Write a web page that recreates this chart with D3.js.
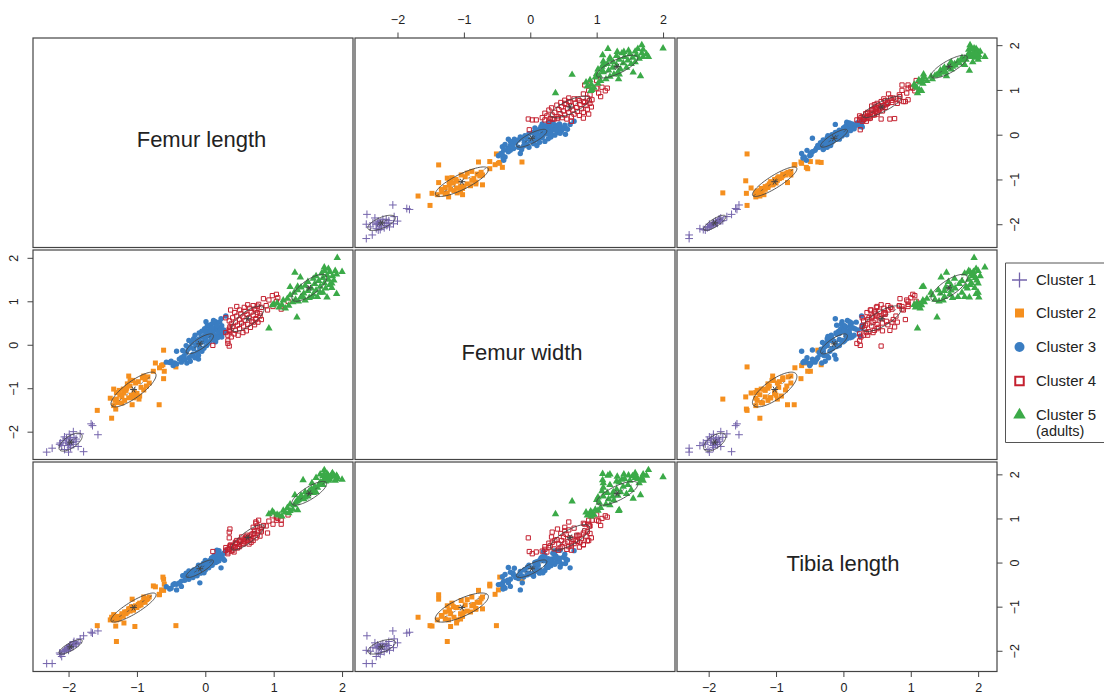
<!DOCTYPE html>
<html lang="en">
<head>
<meta charset="UTF-8">
<title>Femur and tibia clusters</title>
<script src="https://cdn.jsdelivr.net/npm/d3@7"></script>
<style>
  html, body { margin: 0; background: #fff; }
  svg { display: block; }
  text { font-family: "Liberation Sans", Arial, sans-serif; fill: #222; }
  .tick line { stroke: #444; stroke-width: 1; }
  .tick text { font-size: 12.5px; fill: #222; }
</style>
</head>
<body>
<svg id="chart" width="1104" height="696"></svg>
<script>
// every point is [femur length, femur width, tibia length]
var cluster1 = [
  [-2.32,-2.47,-2.29],[-2.24,-2.38,-2.29],[-1.78,-2.46,-1.66],[-2.00,-2.47,-1.99],[-1.57,-2.07,-1.55],
  [-1.65,-1.86,-1.60],[-1.67,-1.82,-1.58],[-1.86,-2.34,-1.82],[-1.97,-2.37,-1.93],[-1.93,-2.29,-1.90],
  [-1.89,-2.22,-1.84],[-1.97,-2.14,-1.88],[-1.99,-2.06,-1.93],[-1.93,-2.00,-1.82],[-2.04,-2.24,-1.97],
  [-2.13,-2.29,-2.05],[-2.01,-2.32,-1.94],[-1.98,-2.19,-1.90],[-2.06,-2.41,-2.01],[-2.06,-2.12,-1.99],
  [-2.00,-2.27,-1.92],[-1.89,-2.17,-1.85],[-1.95,-2.25,-1.87],[-2.08,-2.20,-2.02],[-2.10,-2.32,-2.13],
  [-1.92,-2.13,-1.79],[-2.03,-2.16,-1.96],[-1.83,-2.05,-1.73],[-2.12,-2.26,-2.08],[-1.98,-2.30,-1.87]
];
var cluster2 = [
  [-0.61,-0.125,-0.38],[-0.62,-0.46,-0.33],[-0.60,-0.61,-0.49],[-0.61,-0.78,-0.63],[-0.43,-0.51,-1.43],
  [-0.67,-0.53,-0.72],[-0.73,-0.42,-0.55],[-0.76,-0.61,-0.53],[-0.64,-0.48,-0.62],[-0.90,-0.72,-0.78],
  [-1.12,-0.72,-1.05],[-1.58,-1.51,-1.43],[-1.37,-1.69,-1.24],[-1.30,-1.25,-1.79],[-1.03,-1.20,-1.45],
  [-1.19,-1.11,-1.37],[-1.31,-1.48,-1.44],[-0.675,-1.38,-0.73],[-1.07,-1.38,-0.83],[-1.34,-1.02,-1.18],
  [-1.39,-1.23,-1.30],[-1.28,-1.33,-1.22],[-1.25,-1.15,-1.24],[-1.22,-1.34,-1.20],[-1.20,-1.02,-1.22],
  [-1.18,-1.28,-1.12],[-1.16,-1.05,-1.16],[-1.14,-0.90,-1.12],[-1.12,-1.22,-1.08],[-1.10,-0.95,-1.10],
  [-1.08,-1.16,-1.00],[-1.06,-0.82,-1.06],[-1.04,-1.10,-1.02],[-1.02,-0.88,-0.98],[-1.00,-1.12,-1.02],
  [-0.98,-0.85,-0.95],[-0.96,-1.18,-0.92],[-0.94,-0.98,-0.96],[-0.92,-0.76,-0.90],[-0.90,-1.04,-0.86],
  [-0.88,-0.80,-0.90],[-0.86,-0.95,-0.84],[-0.84,-0.74,-0.82],[-1.30,-1.10,-1.30],[-1.32,-1.28,-1.28],
  [-1.34,-1.40,-1.30],[-1.26,-1.05,-1.28],[-1.15,-1.00,-1.12],[-1.05,-1.22,-1.08],[-0.97,-1.25,-0.98],
  [-1.22,-1.20,-1.16],[-0.82,-0.88,-0.78],[-1.10,-0.82,-1.04]
];
var cluster3 = [
  [0.23,0.60,-0.12],[-0.42,-0.15,-0.62],[-0.10,-0.33,-0.11],[-0.08,-0.12,-0.46],[-0.50,-0.38,-0.58],
  [-0.57,-0.40,-0.55],[-0.35,-0.30,-0.54],[-0.52,-0.41,-0.60],[0.17,0.45,0.28],[0.20,0.38,0.27],
  [0.28,0.30,0.05],[0.18,0.20,0.25],[0.15,0.53,0.09],[0.01,0.53,-0.02],[0.05,0.42,0.02],[0.30,0.66,0.27],
  [-0.47,-0.48,-0.50],[-0.45,-0.42,-0.48],
  [-0.30,-0.34,-0.40],[-0.27,-0.42,-0.32],[-0.35,-0.40,-0.42],[-0.42,-0.44,-0.49],[-0.24,-0.30,-0.38],
  [-0.31,-0.25,-0.29],[-0.38,-0.33,-0.46],[-0.22,-0.38,-0.27],[-0.28,-0.18,-0.36],[-0.20,-0.26,-0.24],
  [-0.25,-0.10,-0.33],[-0.18,-0.22,-0.34],[-0.33,-0.13,-0.30],[-0.15,-0.30,-0.22],[-0.22,-0.05,-0.28],
  [-0.12,-0.18,-0.30],[-0.28,-0.02,-0.24],[-0.17,-0.09,-0.17],[-0.10,-0.24,-0.13],[-0.20,0.05,-0.31],
  [-0.14,0.00,-0.26],[-0.05,-0.15,-0.20],[-0.24,0.10,-0.19],[-0.09,-0.04,-0.10],[-0.17,0.14,-0.24],
  [-0.02,-0.08,-0.16],[-0.12,0.08,-0.14],[-0.06,0.18,-0.22],[0.02,-0.02,-0.06],[-0.15,0.22,-0.18],
  [-0.03,0.07,-0.02],[-0.09,0.27,-0.11],[0.05,0.04,-0.12],[0.00,0.15,-0.17],[-0.05,0.31,-0.07],
  [0.08,0.10,-0.02],[0.02,0.24,-0.10],[0.12,0.14,0.05],[-0.01,0.37,-0.04],[0.06,0.20,0.04],
  [0.15,0.07,0.00],[0.04,0.31,-0.01],[0.10,0.26,-0.06],[0.18,0.16,0.10],[0.07,0.41,0.03],
  [0.13,0.33,0.08],[0.20,0.24,0.04],[0.09,0.47,-0.03],[0.16,0.39,0.14],[0.24,0.18,0.13],
  [0.11,0.34,0.01],[0.19,0.30,0.07],[0.14,0.50,0.12],[0.22,0.37,0.17],[0.26,0.27,0.09],
  [0.17,0.44,0.02],[0.21,0.52,0.19],[0.27,0.34,0.21],[0.12,0.56,0.06],[0.24,0.44,0.10],
  [0.03,0.45,-0.10],[-0.02,0.19,-0.23],[0.01,0.10,0.02],[0.09,0.18,0.10],[-0.07,0.05,-0.24],
  [0.06,0.28,-0.08],[0.13,0.22,0.16],[-0.10,0.12,-0.06],[0.10,0.38,0.11],[0.00,0.30,0.05]
];
var cluster4 = [
  [0.11,-0.015,0.25],[0.33,0.03,0.20],[0.33,0.09,0.24],[0.35,-0.03,0.56],[0.35,0.33,0.69],[0.36,0.41,0.76],
  [1.21,1.00,1.08],[1.11,0.82,0.87],[1.11,0.88,0.96],[1.06,1.08,1.00],[1.04,1.16,1.03],[1.04,1.00,0.96],
  [0.99,0.88,0.87],[0.93,1.03,0.94],[0.85,1.06,0.84],[0.78,0.93,0.96],[0.74,0.80,0.89],[0.76,0.89,0.83],
  [0.98,1.13,1.06],[0.91,0.80,0.67],[0.80,0.72,0.60],[0.89,0.90,0.83],
  [0.33,0.22,0.30],[0.38,0.18,0.26],[0.30,0.28,0.34],[0.42,0.25,0.24],[0.36,0.30,0.38],[0.48,0.22,0.36],
  [0.35,0.36,0.31],[0.44,0.33,0.46],[0.55,0.28,0.44],[0.40,0.42,0.28],[0.50,0.37,0.50],[0.60,0.32,0.58],
  [0.38,0.48,0.36],[0.47,0.45,0.33],[0.56,0.43,0.42],[0.66,0.40,0.52],[0.35,0.55,0.30],[0.44,0.52,0.44],
  [0.53,0.50,0.58],[0.62,0.47,0.50],[0.72,0.46,0.66],[0.40,0.62,0.38],[0.50,0.58,0.36],[0.58,0.56,0.47],
  [0.68,0.54,0.64],[0.77,0.52,0.72],[0.46,0.66,0.43],[0.55,0.64,0.53],[0.64,0.62,0.42],[0.74,0.60,0.56],
  [0.82,0.58,0.74],[0.43,0.74,0.35],[0.52,0.71,0.48],[0.61,0.70,0.62],[0.70,0.68,0.50],[0.80,0.66,0.78],
  [0.50,0.80,0.41],[0.58,0.77,0.54],[0.67,0.75,0.46],[0.76,0.74,0.62],[0.57,0.86,0.49],[0.65,0.84,0.60],
  [0.72,0.82,0.72],[0.62,0.92,0.56],[0.70,0.90,0.66],[0.82,0.86,0.70],[0.30,0.62,0.28],[0.37,0.80,0.40],
  [0.46,0.88,0.50],[0.74,0.58,0.92],[0.70,0.52,0.80]
];
var cluster5 = [
  [0.93,0.38,1.10],[1.34,0.63,1.39],[1.93,2.00,1.94],[2.00,1.68,1.88],[1.74,1.78,2.10],[1.78,1.09,2.01],
  [1.85,1.41,2.00],[1.92,1.17,1.97],[1.85,1.31,1.95],[1.39,1.55,1.45],[1.24,1.33,1.17],[1.00,0.93,1.13],
  [0.98,0.91,1.16],[1.43,1.09,1.87],[1.56,1.10,1.80],[1.68,1.20,2.00],[1.31,1.66,1.53],[1.35,1.34,1.19],
  [1.08,0.86,1.07],[1.12,0.92,1.05],[1.05,0.96,1.09],[1.17,0.84,1.14],[1.14,1.02,1.18],[1.22,0.90,1.12],
  [1.20,1.06,1.24],[1.28,0.98,1.20],[1.24,1.14,1.32],[1.32,1.04,1.36],[1.36,1.00,1.42],[1.30,1.20,1.30],
  [1.40,1.10,1.50],[1.46,1.02,1.48],[1.35,1.26,1.41],[1.44,1.18,1.44],[1.52,1.08,1.62],[1.40,1.32,1.52],
  [1.50,1.24,1.50],[1.58,1.16,1.58],[1.64,1.10,1.70],[1.46,1.36,1.60],[1.55,1.30,1.66],[1.62,1.25,1.60],
  [1.72,1.20,1.76],[1.50,1.45,1.56],[1.60,1.40,1.72],[1.68,1.34,1.82],[1.76,1.30,1.84],[1.58,1.52,1.65],
  [1.66,1.47,1.76],[1.74,1.42,1.90],[1.82,1.38,1.88],[1.62,1.58,1.92],[1.72,1.54,1.96],[1.80,1.50,1.86],
  [1.88,1.48,1.98],[1.70,1.64,1.80],[1.78,1.60,1.94],[1.86,1.58,2.03],[1.92,1.62,1.90],[1.74,1.70,2.00],
  [1.82,1.68,1.93],[1.90,1.70,1.86],[1.80,1.75,1.97]
];

// ellipse centres and half extents per cluster, same order as the points
var centers = [[-1.97,-2.24,-1.91],[-1.05,-1.03,-1.02],[-0.08,0.02,-0.14],[0.62,0.60,0.57],[1.52,1.31,1.57]];
var extents = [[0.17,0.207,0.165],[0.33,0.40,0.33],[0.20,0.23,0.20],[0.24,0.295,0.29],[0.255,0.31,0.27]];
// correlations: length-width, length-tibia, width-tibia
var correlations = [[0.65,0.80,0.60],[0.82,0.87,0.75],[0.80,0.85,0.80],[0.75,0.85,0.75],[0.75,0.80,0.75]];

var variableNames = ["Femur length", "Femur width", "Tibia length"];
var clusterNames = ["Cluster 1", "Cluster 2", "Cluster 3", "Cluster 4", "Cluster 5"];
var tickValues = [-2, -1, 0, 1, 2];
var clusters = [cluster1, cluster2, cluster3, cluster4, cluster5];

var domains = [[-2.52, 2.16], [-2.64, 2.18], [-2.47, 2.28]];
var colX = [33, 355, 677], rowY = [38, 250, 462];
var panelW = 320, panelH = 209.5;
var colors = ["#7464ac", "#f58f1e", "#3a7dc2", "#c4202f", "#3baa48"];

var svg = d3.select("#chart");

var xScales = domains.map(function (d, i) {
  return d3.scaleLinear().domain(d).range([colX[i], colX[i] + panelW]);
});
var yScales = domains.map(function (d, i) {
  return d3.scaleLinear().domain(d).range([rowY[i] + panelH, rowY[i]]);
});

function plusType(half) {
  return { draw: function (ctx) {
    ctx.moveTo(-half, 0); ctx.lineTo(half, 0);
    ctx.moveTo(0, -half); ctx.lineTo(0, half);
  } };
}
var starType = { draw: function (ctx) {
  ctx.moveTo(-3.4, 0); ctx.lineTo(3.4, 0);
  ctx.moveTo(-1.7, -2.95); ctx.lineTo(1.7, 2.95);
  ctx.moveTo(-1.7, 2.95); ctx.lineTo(1.7, -2.95);
} };

var markers = [
  { path: d3.symbol().type(plusType(3.9))(), fill: "none", stroke: colors[0], width: 1 },
  { path: d3.symbol().type(d3.symbolSquare).size(25)(), fill: colors[1], stroke: "none", width: 0 },
  { path: d3.symbol().type(d3.symbolCircle).size(23)(), fill: colors[2], stroke: "none", width: 0 },
  { path: d3.symbol().type(d3.symbolSquare).size(18)(), fill: "none", stroke: colors[3], width: 1 },
  { path: d3.symbol().type(d3.symbolTriangle).size(24)(), fill: colors[4], stroke: "none", width: 0 }
];

function corr(c, a, b) {
  var key = Math.min(a, b) + Math.max(a, b) - 1; // 0,1 -> 0  0,2 -> 1  1,2 -> 2
  return correlations[c][key];
}

function drawPanel(row, col) {
  var x = xScales[col], y = yScales[row];
  var g = svg.append("g");

  clusters.forEach(function (pts, c) {
    var m = markers[c];
    g.selectAll("path.c" + c).data(pts).enter().append("path")
      .attr("class", "c" + c)
      .attr("d", m.path)
      .attr("fill", m.fill)
      .attr("stroke", m.stroke)
      .attr("stroke-width", m.width)
      .attr("transform", function (d) { return "translate(" + x(d[col]) + "," + y(d[row]) + ")"; });
  });

  // ellipse, dashed long axis and centre star for each cluster
  centers.forEach(function (center, c) {
    var cx = center[col], cy = center[row];
    var sx = extents[c][col], sy = extents[c][row];
    var a = Math.acos(corr(c, row, col));
    var angles = d3.range(0, 2 * Math.PI, Math.PI / 40);
    var line = d3.line()
      .x(function (t) { return x(cx + sx * Math.cos(t)); })
      .y(function (t) { return y(cy + sy * Math.cos(t - a)); })
      .curve(d3.curveLinearClosed);
    g.append("path").attr("d", line(angles))
      .attr("fill", "none").attr("stroke", "#444").attr("stroke-width", 0.9);
    var k = Math.cos(a / 2);
    g.append("line")
      .attr("x1", x(cx - sx * k)).attr("y1", y(cy - sy * k))
      .attr("x2", x(cx + sx * k)).attr("y2", y(cy + sy * k))
      .attr("stroke", "#444").attr("stroke-width", 0.6)
      .attr("stroke-dasharray", "3 6");
    g.append("path").attr("d", d3.symbol().type(starType)())
      .attr("fill", "none").attr("stroke", "#444").attr("stroke-width", 1)
      .attr("transform", "translate(" + x(cx) + "," + y(cy) + ")");
  });
}

// off-diagonal panels only, row variable goes on y and column variable on x
d3.range(3).forEach(function (row) {
  d3.range(3).forEach(function (col) {
    if (row !== col) drawPanel(row, col);
  });
});

// frames and diagonal names
var nameShift = [8.5, 7, 6];
d3.range(3).forEach(function (row) {
  d3.range(3).forEach(function (col) {
    svg.append("rect")
      .attr("x", colX[col]).attr("y", rowY[row])
      .attr("width", panelW).attr("height", panelH)
      .attr("fill", "none").attr("stroke", "#444").attr("stroke-width", 1.2);
  });
  svg.append("text")
    .attr("x", colX[row] + panelW / 2 + nameShift[row])
    .attr("y", rowY[row] + panelH / 2 + [-3, -2, -3][row])
    .attr("dy", "0.35em")
    .attr("text-anchor", "middle")
    .style("font-size", "22px")
    .text(variableNames[row]);
});

function minus(d) { return d < 0 ? "\u2212" + Math.abs(d) : "" + d; }

function addAxis(axis, tx, ty) {
  return svg.append("g")
    .attr("transform", "translate(" + tx + "," + ty + ")")
    .call(axis.tickValues(tickValues).tickFormat(minus).tickSize(5.5).tickSizeOuter(0))
    .call(function (g) { g.select(".domain").remove(); })
    .style("font-family", null);
}

addAxis(d3.axisTop(xScales[1]), 0, rowY[0]).selectAll("text").attr("y", -14);
addAxis(d3.axisBottom(xScales[0]), 0, rowY[2] + panelH).selectAll("text").attr("y", 12);
addAxis(d3.axisBottom(xScales[2]), 0, rowY[2] + panelH).selectAll("text").attr("y", 12);

function rotateLabels(sel, off) {
  sel.selectAll("text")
    .attr("x", 0).attr("y", 0).attr("dy", "0.35em")
    .attr("text-anchor", "middle")
    .attr("transform", "translate(" + off + ",0) rotate(-90)");
}
rotateLabels(addAxis(d3.axisLeft(yScales[1]), colX[0], 0), -19);
rotateLabels(addAxis(d3.axisRight(yScales[0]), colX[2] + panelW, 0), 18);
rotateLabels(addAxis(d3.axisRight(yScales[2]), colX[2] + panelW, 0), 18);

// legend, box runs off the right edge of the page
var legend = svg.append("g");
legend.append("path")
  .attr("d", "M1104,263H1005.5V442.5H1104")
  .attr("fill", "none").attr("stroke", "#555").attr("stroke-width", 1);

var legendY = [280, 313, 347, 381, 415];
var legendMarks = [
  { path: d3.symbol().type(plusType(7.5))(), fill: "none", stroke: colors[0], width: 1.3 },
  { path: d3.symbol().type(d3.symbolSquare).size(81)(), fill: colors[1], stroke: "none", width: 0 },
  { path: d3.symbol().type(d3.symbolCircle).size(78)(), fill: colors[2], stroke: "none", width: 0 },
  { path: d3.symbol().type(d3.symbolSquare).size(72)(), fill: "none", stroke: colors[3], width: 2 },
  { path: d3.symbol().type(d3.symbolTriangle).size(68)(), fill: colors[4], stroke: "none", width: 0 }
];
clusterNames.forEach(function (name, i) {
  legend.append("path")
    .attr("d", legendMarks[i].path)
    .attr("fill", legendMarks[i].fill)
    .attr("stroke", legendMarks[i].stroke)
    .attr("stroke-width", legendMarks[i].width)
    .attr("transform", "translate(1019.5," + legendY[i] + ")");
  legend.append("text")
    .attr("x", 1036).attr("y", legendY[i]).attr("dy", "0.35em")
    .style("font-size", "15px")
    .text(name);
});
legend.append("text")
  .attr("x", 1036).attr("y", 431).attr("dy", "0.35em")
  .style("font-size", "14.5px")
  .text("(adults)");
</script>
</body>
</html>
